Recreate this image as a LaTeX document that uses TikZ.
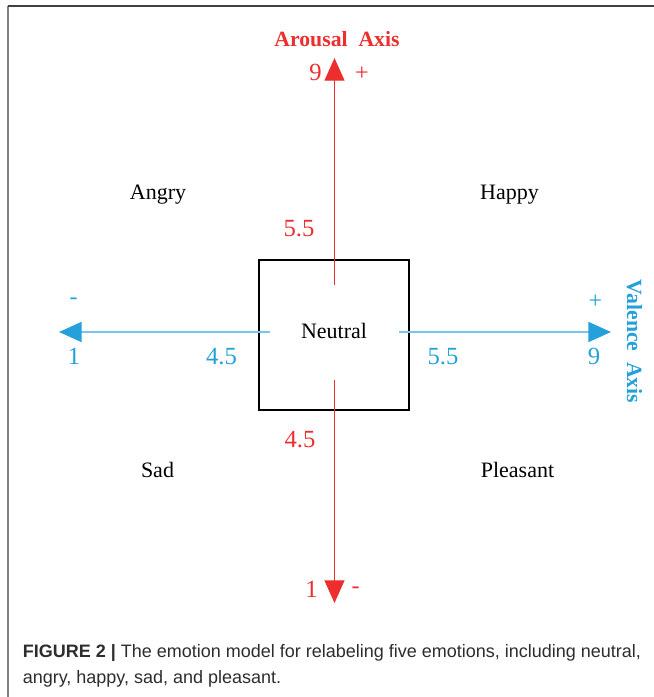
\documentclass[tikz,border=0pt]{standalone}
\usepackage{fontspec}
\setmainfont{Liberation Serif}
\newfontfamily\capfont{Liberation Sans}
\usetikzlibrary{arrows.meta}
\definecolor{arousal}{RGB}{236,46,46}
\definecolor{valence}{RGB}{36,160,218}
\definecolor{valenceline}{RGB}{120,198,234}
\definecolor{captext}{RGB}{45,45,45}

\begin{document}
\begin{tikzpicture}[x=0.75pt,y=-0.75pt,
                emotion/.style={anchor=base,font=\fontsize{16.5}{18}\selectfont},
                tick/.style={anchor=base,font=\fontsize{18.5}{20}\selectfont},
                sign/.style={font=\fontsize{18}{20}\selectfont},
                title/.style={font=\bfseries\fontsize{16.3}{18}\selectfont},
                box/.style={draw,rectangle,line width=1.4pt,minimum size=112.5pt,inner sep=0pt},
                redaxis/.style={arousal,line width=0.9pt,-{Triangle[width=15pt,length=17pt]}},
                blueaxis/.style={valenceline,line width=1.5pt,-{Triangle[width=15pt,length=17pt,color=valence]}},
            ]
            \useasboundingbox (0,0) rectangle (654,697);

            % frame
            \draw[gray,line width=1.5pt] (7.5,697) -- (7.5,6);
            \draw[black!75,line width=1.3pt] (7.5,6) -- (654,6);

            \node[box] (neutral) at (334,335) {};
            \node[emotion] (neutralLbl) at (334,338) {Neutral};

            \node[emotion] (angry) at (158,199) {Angry};
            \node[emotion] (happy) at (509.5,199) {Happy};
            \node[emotion] (sad) at (157.5,477) {Sad};
            \node[emotion] (pleasant) at (517.5,477) {Pleasant};

            % arousal axis
            \coordinate (upStart) at (334.5,285);
            \coordinate (upEnd) at (334.5,58);
            \coordinate (downStart) at (334.5,380);
            \coordinate (downEnd) at (334.5,603);
            \draw[redaxis] (upStart) -- (upEnd);
            \draw[redaxis] (downStart) -- (downEnd);

            \node[title,arousal] (arousalTitle) at (337,39) {Arousal\ \ Axis};
            \node[tick,arousal] (aNine) at (315.5,80.5) {9};
            \node[sign,arousal] (aPlus) at (362,73.5) {+};
            \node[tick,arousal] (aHigh) at (299,236.5) {5.5};
            \node[tick,arousal] (aLow) at (300,447) {4.5};
            \node[tick,arousal] (aOne) at (311.5,597) {1};
            \node[sign,arousal] (aMinus) at (355.5,590) {-};

            % valence axis
            \coordinate (leftStart) at (270,332);
            \coordinate (leftEnd) at (59,332);
            \coordinate (rightStart) at (399,332);
            \coordinate (rightEnd) at (611,332);
            \draw[blueaxis] (leftStart) -- (leftEnd);
            \draw[blueaxis] (rightStart) -- (rightEnd);

            \node[title,valence,rotate=-90] (valenceTitle) at (634.5,341.5) {Valence\ \ Axis};
            \node[sign,valence] (vMinus) at (73.5,301) {-};
            \node[tick,valence] (vOne) at (74,364.5) {1};
            \node[tick,valence] (vLow) at (221.5,364.5) {4.5};
            \node[tick,valence] (vHigh) at (443,364.5) {5.5};
            \node[tick,valence] (vNine) at (594,364.5) {9};
            \node[sign,valence] (vPlus) at (595.5,302) {+};

            % caption
            \node[anchor=base west,align=left,inner sep=0pt,text=captext,
                  font=\capfont\fontsize{13.5}{19}\selectfont] (caption) at (22.5,683)
                {\textbf{FIGURE 2 |} The emotion model for relabeling five emotions, including neutral,\\
                 angry, happy, sad, and pleasant.};
        \end{tikzpicture}
\end{document}
